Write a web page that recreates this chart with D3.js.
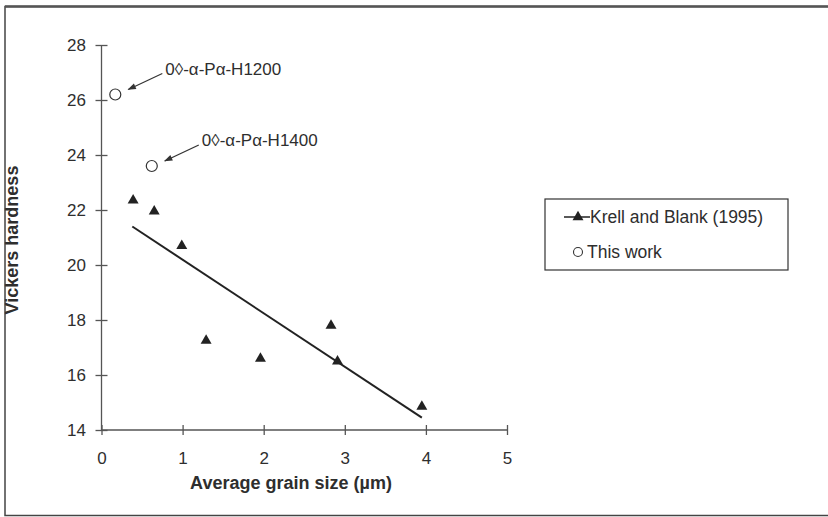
<!DOCTYPE html>
<html>
<head>
<meta charset="utf-8">
<script src="https://cdn.jsdelivr.net/npm/d3@7"></script>
<style>
  body { margin: 0; background: #fff; }
  text { font-family: "Liberation Sans", Arial, sans-serif; fill: #2e2e2e; }
</style>
</head>
<body>
<svg id="chart"></svg>
<script>
// Krell and Blank (1995) points
var krellX = [0.39, 0.65, 0.99, 1.29, 1.96, 2.83, 2.91, 3.95];
var krellY = [22.35, 21.95, 20.7, 17.25, 16.6, 17.8, 16.5, 14.85];
// fitted trend line ends
var fitX = [0.38, 3.95];
var fitY = [21.4, 14.45];
// this work
var workX = [0.17, 0.62];
var workY = [26.2, 23.6];
var workLabels = ["0\u25CA-\u03B1-P\u03B1-H1200", "0\u25CA-\u03B1-P\u03B1-H1400"];

var xTicks = [0, 1, 2, 3, 4, 5];
var yTicks = [14, 16, 18, 20, 22, 24, 26, 28];

var width = 828, height = 517;
var margin = {top: 45, right: 321, bottom: 87, left: 101.5};
var fs = "17px";

var svg = d3.select("#chart")
    .attr("width", width)
    .attr("height", height);

// outer frame
svg.append("rect")
    .attr("x", 5).attr("y", 6.5)
    .attr("width", 840).attr("height", 509)
    .attr("fill", "none")
    .attr("stroke", "#444")
    .attr("stroke-width", 1.5);
svg.append("line")
    .attr("x1", 5).attr("x2", 828).attr("y1", 6.5).attr("y2", 6.5)
    .attr("stroke", "#555").attr("stroke-width", 2.5);

var xScale = d3.scaleLinear().domain([0, 5]).range([margin.left, width - margin.right]);
var yScale = d3.scaleLinear().domain([14, 28]).range([height - margin.bottom, margin.top]);

var g = svg.append("g");

var xAxis = g.append("g")
    .attr("transform", "translate(0," + yScale(14) + ")")
    .call(d3.axisBottom(xScale).tickValues(xTicks).tickFormat(d3.format("d")).tickSize(5).tickPadding(17));
xAxis.selectAll(".tick line").attr("y1", -5).attr("y2", 5);

var yAxis = g.append("g")
    .attr("transform", "translate(" + xScale(0) + ",0)")
    .call(d3.axisLeft(yScale).tickValues(yTicks).tickSize(6).tickPadding(9.5));
yAxis.selectAll(".tick line").attr("x1", 6).attr("x2", -6);

[xAxis, yAxis].forEach(function(a){
  a.select(".domain").attr("stroke", "#555").attr("stroke-width", 1.3);
  a.selectAll(".tick line").attr("stroke", "#555").attr("stroke-width", 1.3);
  a.selectAll("text").style("font-size", fs).attr("fill", "#2e2e2e");
});
// remove the end caps of the domain path
xAxis.select(".domain").attr("d", "M" + xScale(0) + ",0H" + xScale(5));
yAxis.select(".domain").attr("d", "M0," + yScale(14) + "V" + yScale(28));

// axis titles
svg.append("text")
    .attr("x", 291).attr("y", 489)
    .attr("text-anchor", "middle")
    .style("font-size", "18px").style("font-weight", "bold")
    .text("Average grain size (\u00B5m)");

svg.append("text")
    .attr("transform", "translate(18,240) rotate(-90)")
    .attr("text-anchor", "middle")
    .style("font-size", "18px").style("font-weight", "bold")
    .text("Vickers hardness");

// trend line
svg.append("line")
    .attr("x1", xScale(fitX[0])).attr("y1", yScale(fitY[0]))
    .attr("x2", xScale(fitX[1])).attr("y2", yScale(fitY[1]))
    .attr("stroke", "#222").attr("stroke-width", 2);

var tri = d3.symbol().type(d3.symbolTriangle).size(52);

svg.selectAll(".krell")
    .data(krellX).enter()
    .append("path")
      .attr("class", "krell")
      .attr("d", tri)
      .attr("transform", function(d, i){ return "translate(" + xScale(d) + "," + yScale(krellY[i]) + ")"; })
      .attr("fill", "#222");

svg.selectAll(".work")
    .data(workX).enter()
    .append("circle")
      .attr("class", "work")
      .attr("cx", function(d){ return xScale(d); })
      .attr("cy", function(d, i){ return yScale(workY[i]); })
      .attr("r", 5.5)
      .attr("fill", "#fff")
      .attr("stroke", "#333").attr("stroke-width", 1.2);

// annotations with arrows
svg.append("defs").append("marker")
    .attr("id", "arrow")
    .attr("viewBox", "0 0 10 10")
    .attr("refX", 9).attr("refY", 5)
    .attr("markerWidth", 9).attr("markerHeight", 7)
    .attr("orient", "auto")
  .append("path")
    .attr("d", "M0,1.5L10,5L0,8.5z")
    .attr("fill", "#333");

workX.forEach(function(d, i){
  var cx = xScale(d), cy = yScale(workY[i]);
  svg.append("line")
    .attr("x1", cx + 47).attr("y1", cy - 21)
    .attr("x2", cx + 13).attr("y2", cy - 5)
    .attr("stroke", "#333").attr("stroke-width", 1.2)
    .attr("marker-end", "url(#arrow)");
  svg.append("text")
    .attr("x", cx + 50).attr("y", cy - 20)
    .style("font-size", fs)
    .text(workLabels[i]);
});

// legend
var legend = svg.append("g").attr("transform", "translate(545,199)");
legend.append("rect")
    .attr("width", 243).attr("height", 71)
    .attr("fill", "#fff").attr("stroke", "#333").attr("stroke-width", 1.2);
legend.append("line")
    .attr("x1", 19).attr("x2", 45).attr("y1", 18).attr("y2", 18)
    .attr("stroke", "#222").attr("stroke-width", 1.5);
legend.append("path")
    .attr("d", tri)
    .attr("transform", "translate(33,18)")
    .attr("fill", "#222");
legend.append("text")
    .attr("x", 45).attr("y", 24)
    .style("font-size", "17.5px")
    .text("Krell and Blank (1995)");
legend.append("circle")
    .attr("cx", 33).attr("cy", 53).attr("r", 4.5)
    .attr("fill", "#fff").attr("stroke", "#333").attr("stroke-width", 1.1);
legend.append("text")
    .attr("x", 42).attr("y", 59)
    .style("font-size", "17.5px")
    .text("This work");
</script>
</body>
</html>
